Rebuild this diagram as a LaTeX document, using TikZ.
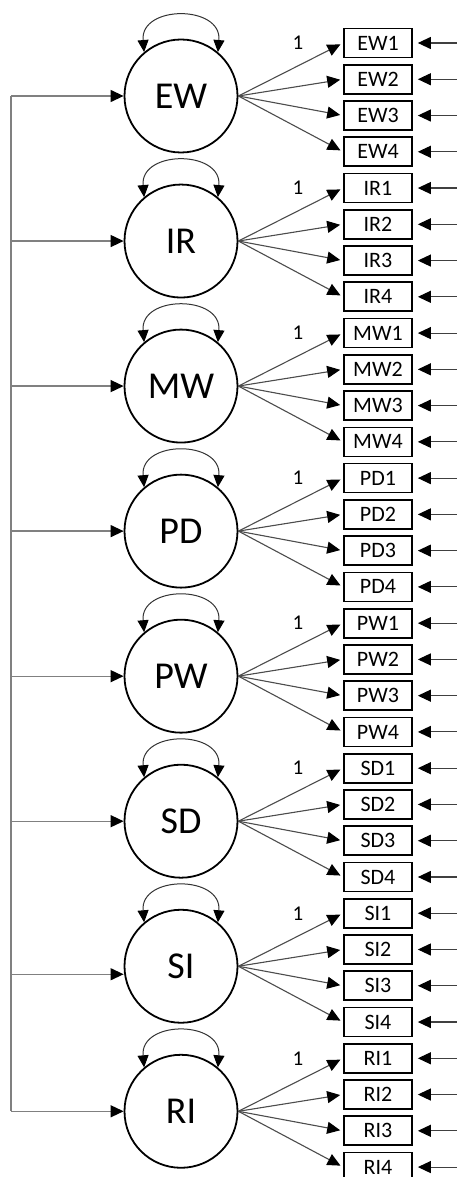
\documentclass[tikz,border=0pt]{standalone}
\usepackage{fontspec}
\setmainfont{Carlito}
\usetikzlibrary{arrows.meta}
\begin{document}
\begin{tikzpicture}[x=1pt,y=-1pt,
  lat/.style={circle,draw=black,line width=1.8pt,minimum size=113pt,inner sep=0pt,font=\fontsize{38}{38}\selectfont},
  obs/.style={draw=black,line width=1.7pt,minimum width=68pt,minimum height=29pt,inner sep=0pt,font=\fontsize{22}{22}\selectfont},
  tipend/.style={-{Triangle[length=13pt,width=12pt,color=black]}},
  fan/.style={tipend,draw=black!70,line width=1.1pt,shorten >=3pt},
  err/.style={tipend,draw=black!75,line width=1.1pt,shorten >=5pt},
  reg/.style={tipend,draw=black!50,line width=1.3pt},
  spineline/.style={draw=black!50,line width=1.3pt},
  var/.style={{Triangle[length=12pt,width=11pt,color=black]}-{Triangle[length=12pt,width=11pt,color=black]},draw=black!80,line width=1pt},
  one/.style={font=\fontsize{21}{21}\selectfont,inner sep=0pt}]
\useasboundingbox (0,0) rectangle (457,1177);
\foreach \n/\d [count=\i from 0] in {EW/0,IR/0,MW/0,PD/0,PW/0,SD/0,SI/8,RI/0} {
  \pgfmathsetmacro\yb{43+145.04*\i}
  \pgfmathsetmacro\yc{\yb+53}
  \node[lat] (\n) at (181,\yc) {\n};
  \foreach \j in {1,...,4} {
    \pgfmathsetmacro\yy{\yb+36.26*(\j-1)}
    \node[obs] (\n\j) at (378,\yy) {\n\j};
    \coordinate (e\n\j) at (457,\yy);
    \draw[fan] (\n.east) -- (\n\j.west);
    \draw[err] (e\n\j) -- (\n\j.east);
  }
  \node[one] (one\n) at (298,\yb) {1};
  \draw[var] (\n.130) to[out=95,in=85,looseness=1.65] (\n.50);
  \pgfmathsetmacro\ys{\yc+\d}
  \coordinate (s\n) at (11,\ys);
  \draw[reg] (s\n) -- (\n.west |- s\n);
}
\draw[spineline] (sEW) -- (sRI);
\end{tikzpicture}
\end{document}
